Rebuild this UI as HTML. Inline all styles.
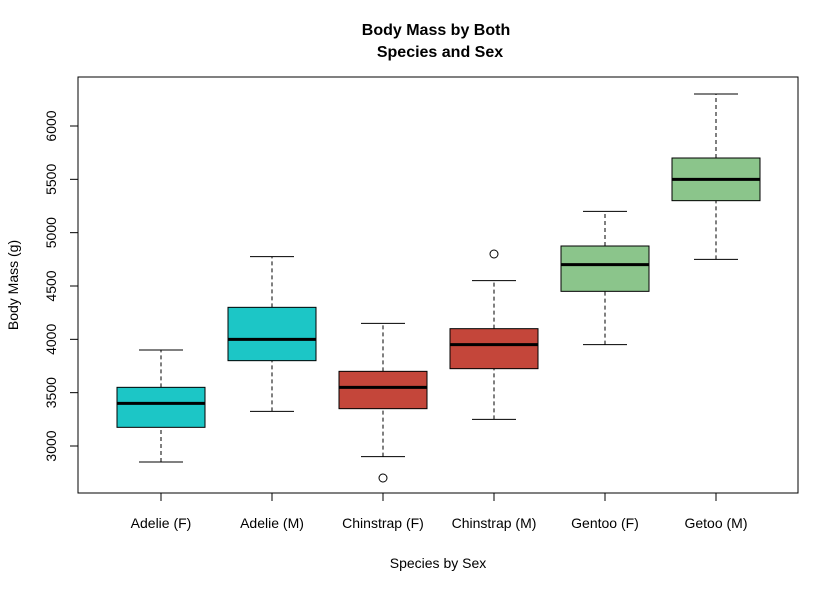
<!DOCTYPE html>
<html><head><meta charset="utf-8"><style>
body{margin:0;background:#fff;}
svg{display:block;font-family:"Liberation Sans",Arial,sans-serif;}
</style></head><body>
<svg id="chart" width="839" height="592" viewBox="0 0 839 592">
<rect width="839" height="592" fill="#fff"/>
<text x="436" y="35" text-anchor="middle" font-size="16" font-weight="bold">Body Mass by Both</text>
<text x="440" y="57" text-anchor="middle" font-size="16" font-weight="bold">Species and Sex</text>
<rect x="78" y="77" width="720" height="416" fill="none" stroke="#000" stroke-width="1"/>
<text x="438" y="568" text-anchor="middle" font-size="14">Species by Sex</text>
<text transform="translate(18,285) rotate(-90)" text-anchor="middle" font-size="14">Body Mass (g)</text>
<g id="axes"></g>
<g id="boxes"></g>
</svg>
<script>
const categories=["Adelie (F)","Adelie (M)","Chinstrap (F)","Chinstrap (M)","Gentoo (F)","Getoo (M)"];
const whiskerLow=[2850,3325,2900,3250,3950,4750];
const q1=[3175,3800,3350,3725,4450,5300];
const medians=[3400,4000,3550,3950,4700,5500];
const q3=[3550,4300,3700,4100,4875,5700];
const whiskerHigh=[3900,4775,4150,4550,5200,6300];
const outliers=[[],[],[2700],[4800],[],[]];
const colors=["#1cc6c6","#1cc6c6","#c4463a","#c4463a","#8bc58b","#8bc58b"];
const yTicks=[3000,3500,4000,4500,5000,5500,6000];

const NS="http://www.w3.org/2000/svg";
function y(v){return 446-(v-3000)*(320/3000);}
function x(i){return 161+i*111;}
function mk(tag,attrs,parent){const e=document.createElementNS(NS,tag);for(const k in attrs)e.setAttribute(k,attrs[k]);parent.appendChild(e);return e;}
const axes=document.getElementById('axes');
const boxes=document.getElementById('boxes');

yTicks.forEach(v=>{
  const t=mk('line',{x1:70,x2:78,y1:y(v),y2:y(v),stroke:'#000'},axes);
  
  
  const l=mk('text',{transform:`translate(56,${y(v)}) rotate(-90)`,'text-anchor':'middle','font-size':'14'},axes);
  l.textContent=v;
  
  
});
categories.forEach((c,i)=>{
  const t=mk('line',{x1:x(i),x2:x(i),y1:493,y2:501,stroke:'#000'},axes);
  
  
  const l=mk('text',{x:x(i),y:528,'text-anchor':'middle','font-size':'14'},axes);
  l.textContent=c;
  
  
});
const hw=44,cap=22;
categories.forEach((c,i)=>{
  const g=mk('g',{},boxes);
  
  
  mk('line',{x1:x(i),x2:x(i),y1:y(whiskerLow[i]),y2:y(q1[i]),stroke:'#000','stroke-dasharray':'4,3'},g);
  mk('line',{x1:x(i),x2:x(i),y1:y(q3[i]),y2:y(whiskerHigh[i]),stroke:'#000','stroke-dasharray':'4,3'},g);
  mk('line',{x1:x(i)-cap,x2:x(i)+cap,y1:y(whiskerLow[i]),y2:y(whiskerLow[i]),stroke:'#000'},g);
  mk('line',{x1:x(i)-cap,x2:x(i)+cap,y1:y(whiskerHigh[i]),y2:y(whiskerHigh[i]),stroke:'#000'},g);
  mk('rect',{x:x(i)-hw,y:y(q3[i]),width:2*hw,height:y(q1[i])-y(q3[i]),fill:colors[i],stroke:'#000'},g);
  mk('line',{x1:x(i)-hw,x2:x(i)+hw,y1:y(medians[i]),y2:y(medians[i]),stroke:'#000','stroke-width':3},g);
  outliers[i].forEach(o=>{
    const p=mk('circle',{cx:x(i),cy:y(o),r:4,fill:'none',stroke:'#000'},g);
    
    
  });
});
</script>
</body></html>
